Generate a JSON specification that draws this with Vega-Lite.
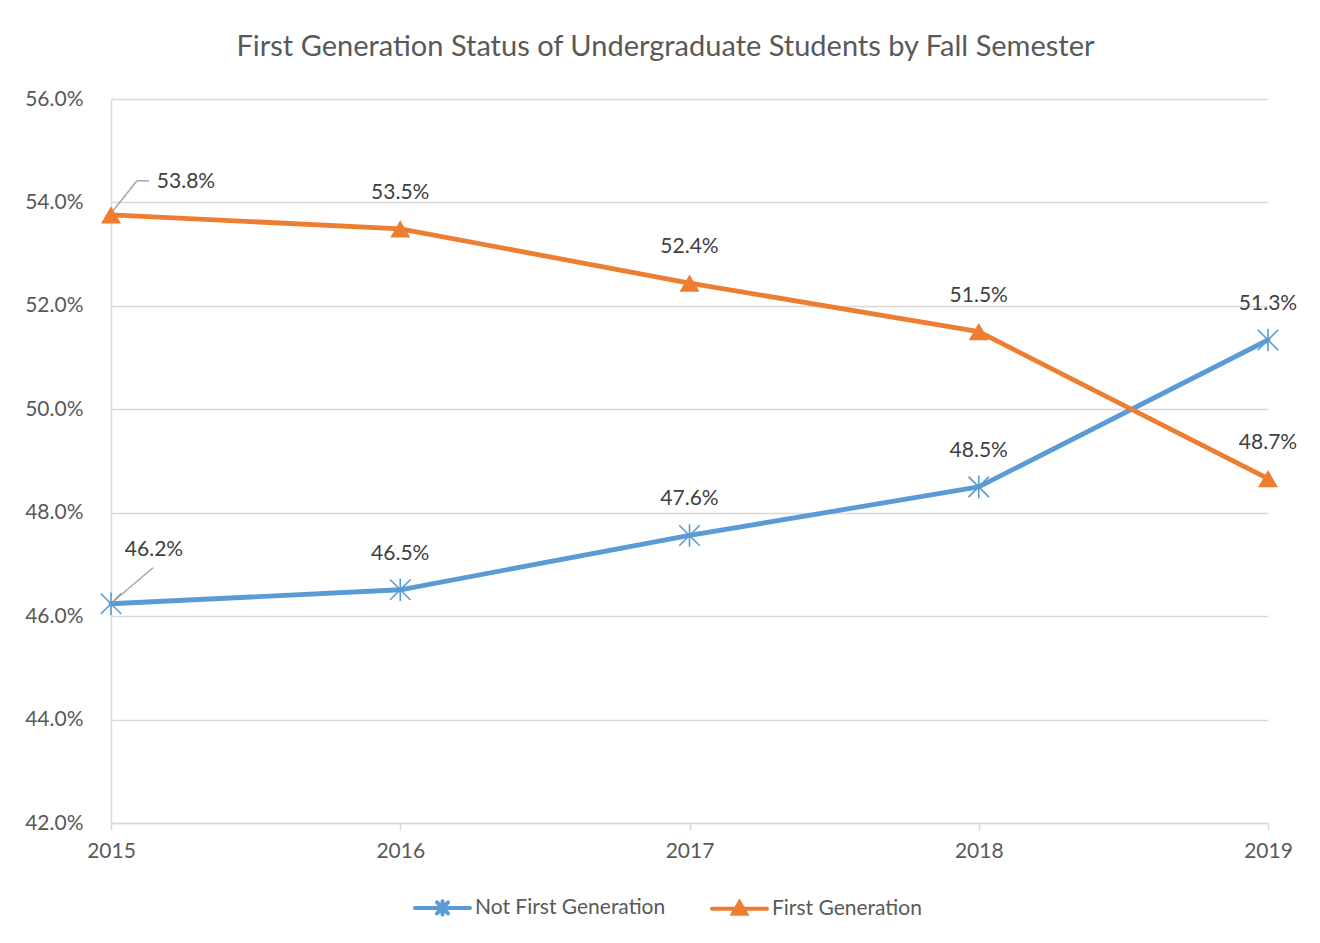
{
  "$schema": "https://vega.github.io/schema/vega-lite/v6.json",
  "width": 1157,
  "height": 724,
  "autosize": {"type": "none"},
  "padding": {"left": 111, "top": 99, "right": 52, "bottom": 120},
  "background": "white",
  "title": {
    "text": "First Generation Status of Undergraduate Students by Fall Semester",
    "font": "Lato",
    "fontSize": 29,
    "fontWeight": "normal",
    "color": "#595959",
    "anchor": "middle",
    "dx": -24,
    "offset": 26
  },
  "config": {
    "view": {"stroke": null},
    "font": "Lato"
  },
  "data": {
    "values": [
      {"year": "2015", "series": "Not First Generation", "value": 46.24},
      {"year": "2016", "series": "Not First Generation", "value": 46.51},
      {"year": "2017", "series": "Not First Generation", "value": 47.56},
      {"year": "2018", "series": "Not First Generation", "value": 48.5},
      {"year": "2019", "series": "Not First Generation", "value": 51.34},
      {"year": "2015", "series": "First Generation", "value": 53.76},
      {"year": "2016", "series": "First Generation", "value": 53.49},
      {"year": "2017", "series": "First Generation", "value": 52.44},
      {"year": "2018", "series": "First Generation", "value": 51.5},
      {"year": "2019", "series": "First Generation", "value": 48.66}
    ]
  },
  "encoding": {
    "x": {
      "field": "year",
      "type": "ordinal",
      "scale": {"type": "point", "padding": 0},
      "axis": {
        "title": null,
        "labelAngle": 0,
        "labelFontSize": 21,
        "labelColor": "#595959",
        "labelPadding": 10,
        "domainColor": "#d9d9d9",
        "domainWidth": 1.5,
        "tickColor": "#d9d9d9",
        "tickSize": 7,
        "tickWidth": 1.5,
        "grid": false
      }
    },
    "y": {
      "field": "value",
      "type": "quantitative",
      "scale": {"domain": [42, 56], "nice": false, "zero": false},
      "axis": {
        "title": null,
        "values": [42, 44, 46, 48, 50, 52, 54, 56],
        "labelExpr": "format(datum.value, '.1f') + '%'",
        "labelFontSize": 21,
        "labelColor": "#595959",
        "labelPadding": 28,
        "ticks": false,
        "domain": true,
        "domainColor": "#d9d9d9",
        "domainWidth": 1.5,
        "grid": true,
        "gridColor": "#d9d9d9",
        "gridWidth": 1.5
      }
    }
  },
  "layer": [
    {
      "mark": {"type": "line", "strokeWidth": 4.8, "strokeCap": "round", "strokeJoin": "round"},
      "encoding": {
        "color": {
          "field": "series",
          "type": "nominal",
          "scale": {"domain": ["Not First Generation", "First Generation"], "range": ["#5b9bd5", "#ed7d31"]},
          "legend": {
            "title": null,
            "orient": "none",
            "legendX": 302,
            "legendY": 779,
            "direction": "horizontal",
            "symbolSize": 3025,
            "symbolStrokeWidth": 4,
            "labelFontSize": 21,
            "labelColor": "#595959",
            "labelOffset": 3,
            "labelLimit": 400,
            "columnPadding": 38,
            "encode": {
              "symbols": {
                "update": {
                  "shape": {"signal": "datum.value === 'First Generation' ? 'M-1,0H1M0,-0.24L0.24,0.18H-0.24Z' : 'M-1,0H1M-0.2,-0.2L0.2,0.2M-0.2,0.2L0.2,-0.2M0,-0.24V0.24'"},
                  "fill": {"scale": "color", "field": "value"},
                  "stroke": {"scale": "color", "field": "value"},
                  "strokeCap": {"value": "round"}
                }
              }
            }
          }
        }
      }
    },
    {
      "transform": [{"filter": "datum.series === 'First Generation'"}],
      "mark": {"type": "point", "shape": "triangle-up", "filled": true, "size": 400, "opacity": 1, "color": "#ed7d31"}
    },
    {
      "transform": [{"filter": "datum.series === 'Not First Generation'"}],
      "mark": {"type": "point", "shape": "M-1,-1L1,1M-1,1L1,-1M0,-1.1L0,1.1", "filled": false, "size": 420, "strokeWidth": 1.6, "opacity": 1, "color": "#5b9bd5"}
    },
    {
      "transform": [{"filter": "datum.year !== '2015'"}, {"calculate": "format(datum.value, '.1f') + '%'", "as": "lbl"}],
      "mark": {"type": "text", "dy": -36, "fontSize": 21, "color": "#404040"},
      "encoding": {"text": {"field": "lbl"}}
    },
    {
      "transform": [{"filter": "datum.year === '2015' && datum.series === 'First Generation'"}, {"calculate": "format(datum.value, '.1f') + '%'", "as": "lbl"}],
      "mark": {"type": "text", "dx": 75, "dy": -33, "fontSize": 21, "color": "#404040"},
      "encoding": {"text": {"field": "lbl"}}
    },
    {
      "transform": [{"filter": "datum.year === '2015' && datum.series === 'Not First Generation'"}, {"calculate": "format(datum.value, '.1f') + '%'", "as": "lbl"}],
      "mark": {"type": "text", "dx": 43, "dy": -54, "fontSize": 21, "color": "#404040"},
      "encoding": {"text": {"field": "lbl"}}
    },
    {
      "transform": [{"filter": "datum.year === '2015' && datum.series === 'First Generation'"}],
      "mark": {"type": "rule", "color": "#a6a6a6", "strokeWidth": 1.5, "xOffset": 2, "yOffset": -4, "x2Offset": 26, "y2Offset": -34},
      "encoding": {"x2": {"field": "year"}, "y2": {"field": "value"}}
    },
    {
      "transform": [{"filter": "datum.year === '2015' && datum.series === 'First Generation'"}],
      "mark": {"type": "rule", "color": "#a6a6a6", "strokeWidth": 1.5, "xOffset": 26, "yOffset": -34, "x2Offset": 38, "y2Offset": -34},
      "encoding": {"x2": {"field": "year"}, "y2": {"field": "value"}}
    },
    {
      "transform": [{"filter": "datum.year === '2015' && datum.series === 'Not First Generation'"}],
      "mark": {"type": "rule", "color": "#a6a6a6", "strokeWidth": 1.5, "xOffset": 2, "yOffset": -2, "x2Offset": 42, "y2Offset": -36},
      "encoding": {"x2": {"field": "year"}, "y2": {"field": "value"}}
    }
  ]
}
